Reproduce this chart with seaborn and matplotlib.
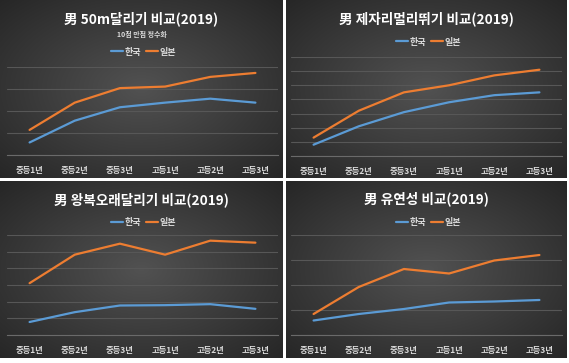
import numpy as np
import pandas as pd
import matplotlib
matplotlib.use('Agg')
import matplotlib.pyplot as plt
import seaborn as sns
from matplotlib.lines import Line2D

sns.set_style('dark')
plt.rcParams['font.family'] = ['Noto Sans CJK KR', 'DejaVu Sans']

# data
grades = ['중등1년', '중등2년', '중등3년', '고등1년', '고등2년', '고등3년']
countries = ['한국', '일본']

sprint_kor = [4.57, 5.56, 6.17, 6.38, 6.56, 6.38]
sprint_jpn = [5.14, 6.38, 7.04, 7.11, 7.55, 7.73]

jump_kor = [178, 191, 201, 208, 213, 215]
jump_jpn = [183, 202, 215, 220, 227, 231]

shuttle_kor = [27.8, 33.7, 37.7, 37.9, 38.5, 35.7]
shuttle_jpn = [51.1, 68.2, 74.8, 68.2, 76.6, 75.4]

flex_kor = [37.9, 39.2, 40.2, 41.5, 41.7, 42.0]
flex_jpn = [39.2, 44.6, 48.2, 47.3, 49.9, 51.0]

colors = {'한국': '#5B9BD5', '일본': '#ED7D31'}

W, H = 569, 363
fig = plt.figure(figsize=(W / 100, H / 100), dpi=100, facecolor='white')


def rect(x0, y0, x1, y1):
    # pixel box (top-left origin) -> figure fraction
    return [x0 / W, 1 - y1 / H, (x1 - x0) / W, (y1 - y0) / H]


def panel(box, plot_box, title, kor, jpn, ylim, step, title_y, legend_y, subtitle=None):
    # dark radial gradient background
    bg = fig.add_axes(rect(*box))
    xx, yy = np.meshgrid(np.linspace(-1, 1, 300), np.linspace(-1, 1, 200))
    r = np.clip(np.sqrt(xx ** 2 + yy ** 2) / np.sqrt(2), 0, 1)
    g = 0.32 - (0.32 - 0.15) * r
    bg.imshow(np.dstack([g, g, g]), aspect='auto', extent=[0, 1, 0, 1])
    bg.set_axis_off()

    cx = (box[0] + box[2]) / 2 / W
    fig.text(cx, 1 - title_y / H, title, color='white', fontsize=9.8,
             fontweight='bold', ha='center', va='center')
    if subtitle:
        fig.text(cx, 1 - 34 / H, subtitle, color='#d9d9d9', fontsize=5,
                 fontweight='bold', ha='center', va='center')

    ax = fig.add_axes(rect(*plot_box))
    ax.patch.set_alpha(0)
    df = pd.DataFrame({'학년': grades * 2, '값': kor + jpn,
                       '국가': ['한국'] * 6 + ['일본'] * 6})
    sns.lineplot(data=df, x='학년', y='값', hue='국가', palette=colors,
                 sort=False, lw=1.6, ax=ax, legend=False,
                 solid_capstyle='round', solid_joinstyle='round')
    ax.set_xlim(-0.5, 5.5)
    ax.set_ylim(*ylim)
    ax.set_yticks(np.arange(ylim[0], ylim[1] + step / 2, step))
    ax.yaxis.grid(True, color='#575757', lw=0.8)
    ax.xaxis.grid(False)
    ax.tick_params(axis='y', left=False, labelleft=False)
    ax.tick_params(axis='x', bottom=False, pad=4.5, labelsize=6, labelcolor='#d9d9d9')
    for lab in ax.get_xticklabels():
        lab.set_fontweight('bold')
    ax.set_xlabel('')
    ax.set_ylabel('')
    for s in ['top', 'left', 'right']:
        ax.spines[s].set_visible(False)
    ax.spines['bottom'].set_color('#6a6a6a')
    ax.spines['bottom'].set_linewidth(0.8)

    handles = [Line2D([], [], color=colors[c], lw=1.6) for c in countries]
    fig.legend(handles, countries, loc='center', ncol=2, frameon=False,
               bbox_to_anchor=(cx + 2 / W, 1 - legend_y / H),
               prop={'size': 6.5, 'weight': 'bold'},
               labelcolor='#d9d9d9', handlelength=1.4, handletextpad=0.15,
               columnspacing=0.5)


panel((0, 0, 283, 178), (7, 67, 278, 155), '男 50m달리기 비교(2019)',
      sprint_kor, sprint_jpn, (4, 8), 1, 19, 52, subtitle='10점 만점 정수화')
panel((286, 0, 567, 178), (291, 57, 562, 156), '男 제자리멀리뛰기 비교(2019)',
      jump_kor, jump_jpn, (170, 240), 10, 19, 42)
panel((0, 181, 283, 358), (7, 235, 278, 335), '男 왕복오래달리기 비교(2019)',
      shuttle_kor, shuttle_jpn, (20, 80), 10, 200, 223)
panel((286, 181, 567, 358), (291, 235, 562, 335), '男 유연성 비교(2019)',
      flex_kor, flex_jpn, (35, 55), 5, 199, 223)

fig.savefig('out.png', dpi=100, facecolor='white')
